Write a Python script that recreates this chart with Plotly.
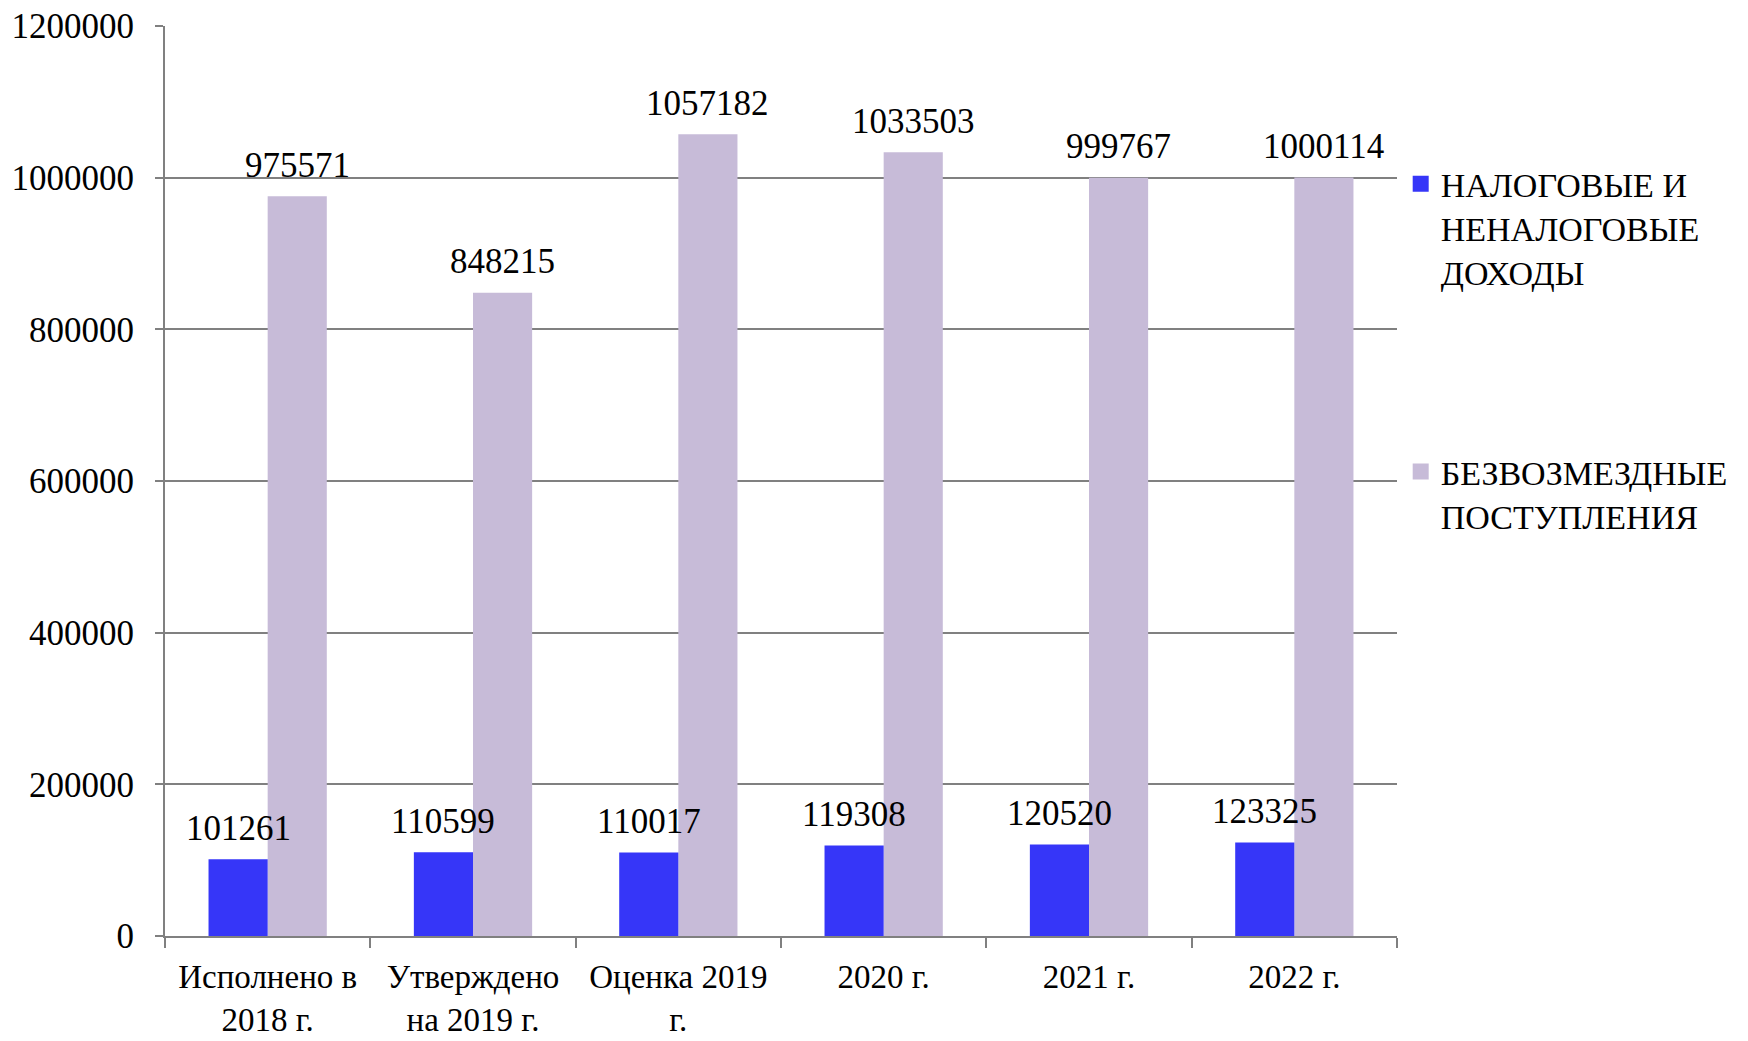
import plotly.graph_objects as go

# Категории и значения
categorias = ["Исполнено в<br>2018 г.", "Утверждено<br>на 2019 г.", "Оценка 2019<br>г.",
              "2020 г.", "2021 г.", "2022 г."]
nalogovye = [101261, 110599, 110017, 119308, 120520, 123325]
bezvozmezdnye = [975571, 848215, 1057182, 1033503, 999767, 1000114]

serie_nombres = ["НАЛОГОВЫЕ И<br>НЕНАЛОГОВЫЕ<br>ДОХОДЫ", "БЕЗВОЗМЕЗДНЫЕ<br>ПОСТУПЛЕНИЯ"]
colores = ["#3636F8", "#C7BBD8"]

FONT = "Liberation Serif"
SIZE = 35
ANCHO = 0.288

fig = go.Figure()
series = [(1, bezvozmezdnye, 0), (0, nalogovye, -ANCHO)]
for i, valores, desplaz in series:
    fig.add_trace(go.Bar(
        x=categorias, y=valores,
        name=serie_nombres[i], showlegend=False,
        width=ANCHO, offset=desplaz,
        marker=dict(color=colores[i], line=dict(width=0)),
    ))

# etiquetas de valores encima de cada barra
for i, valores, desplaz in series:
    for k, v in enumerate(valores):
        fig.add_annotation(
            x=k + desplaz + ANCHO / 2, y=v, text=str(v),
            showarrow=False, yanchor="middle", yshift=31,
            font=dict(family=FONT, size=SIZE, color="black"),
        )

# leyenda con cuadrados más grandes
for i in range(2):
    fig.add_trace(go.Scatter(
        x=[None], y=[None], mode="markers", name=serie_nombres[i],
        legendgroup=str(i),
        marker=dict(symbol="square", size=16, color=colores[i]),
    ))

fig.update_layout(
    width=1740, height=1033,
    margin=dict(l=157, r=351, t=18, b=105),
    paper_bgcolor="white", plot_bgcolor="white",
    font=dict(family=FONT, size=SIZE, color="black"),
    barmode="overlay",
    legend=dict(
        x=1.003, y=0.858, xanchor="left", yanchor="top",
        traceorder="grouped", tracegroupgap=152, valign="top",
        font=dict(family=FONT, size=34, color="black"),
        itemwidth=30,
    ),
)
fig.update_xaxes(
    automargin=False,
    showline=True, linecolor="#808080", linewidth=2,
    ticks="outside", tickson="boundaries", ticklen=10, tickcolor="#808080", tickwidth=2,
    ticklabelstandoff=10,
    showgrid=False, tickfont=dict(family=FONT, size=33),
)
fig.update_yaxes(
    automargin=False, ticklabeloverflow="allow",
    range=[0, 1200000], dtick=200000, tickformat="d",
    showline=True, linecolor="#808080", linewidth=2,
    ticks="outside", ticklen=8, tickcolor="#808080", tickwidth=2,
    ticklabelstandoff=14,
    showgrid=True, gridcolor="#808080", gridwidth=2,
    zeroline=False, tickfont=dict(family=FONT, size=SIZE),
)

fig.write_html("out.html")
